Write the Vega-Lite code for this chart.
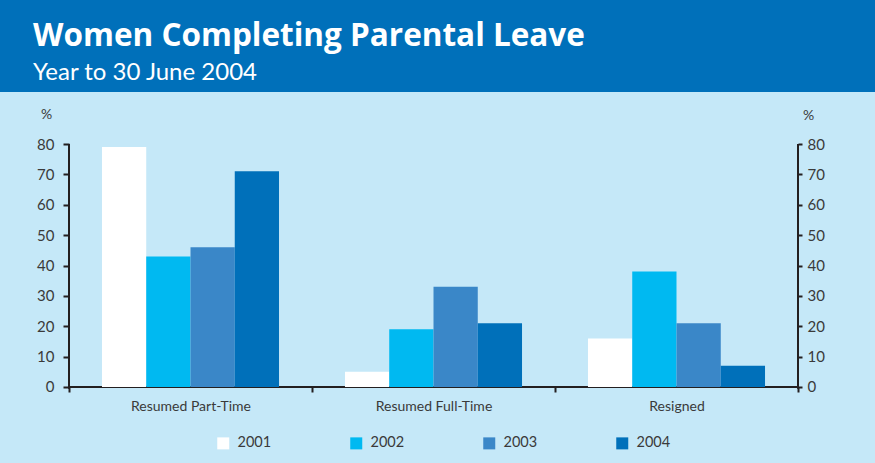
{
  "$schema": "https://vega.github.io/schema/vega-lite/v6.json",
  "background": "#0070BA",
  "padding": {"left": 0, "top": 20, "right": 0, "bottom": 0},
  "width": 875,
  "height": 372,
  "view": {"fill": "#C5E8F8", "stroke": null},
  "title": {
    "text": "Women Completing Parental Leave",
    "subtitle": "Year to 30 June 2004",
    "anchor": "start",
    "frame": "group",
    "orient": "top",
    "offset": 7,
    "dx": 33,
    "font": "Open Sans",
    "fontSize": 31.5,
    "fontWeight": "bold",
    "color": "#FFFFFF",
    "subtitleFont": "Lato",
    "subtitleFontSize": 24,
    "subtitleFontWeight": "normal",
    "subtitleColor": "#FFFFFF",
    "subtitlePadding": 9
  },
  "config": {
    "font": "Lato",
    "axis": {
      "labelFont": "Lato",
      "titleFont": "Lato",
      "domain": false,
      "grid": false,
      "tickColor": "#231F20",
      "tickWidth": 2,
      "labelColor": "#3A3A3A",
      "titleColor": "#3A3A3A"
    },
    "axisX": {
      "orient": "bottom",
      "offset": -77,
      "tickBand": "extent",
      "tickSize": 5,
      "labelFontSize": 14,
      "labelPadding": 7,
      "labelAngle": 0
    },
    "legend": {"labelFont": "Lato"}
  },
  "datasets": {
    "leave": [
      {"category": "Resumed Part-Time", "year": "2001", "value": 79},
      {"category": "Resumed Part-Time", "year": "2002", "value": 43},
      {"category": "Resumed Part-Time", "year": "2003", "value": 46},
      {"category": "Resumed Part-Time", "year": "2004", "value": 71},
      {"category": "Resumed Full-Time", "year": "2001", "value": 5},
      {"category": "Resumed Full-Time", "year": "2002", "value": 19},
      {"category": "Resumed Full-Time", "year": "2003", "value": 33},
      {"category": "Resumed Full-Time", "year": "2004", "value": 21},
      {"category": "Resigned", "year": "2001", "value": 16},
      {"category": "Resigned", "year": "2002", "value": 38},
      {"category": "Resigned", "year": "2003", "value": 21},
      {"category": "Resigned", "year": "2004", "value": 7}
    ],
    "categories": [
      {"category": "Resumed Part-Time"},
      {"category": "Resumed Full-Time"},
      {"category": "Resigned"}
    ],
    "leftEdge": [{"category": "Resumed Part-Time"}],
    "rightEdge": [{"category": "Resigned"}]
  },
  "layer": [
    {
      "data": {"name": "categories"},
      "mark": {"type": "bar", "color": "#231F20"},
      "encoding": {
        "x": {
          "field": "category",
          "type": "nominal",
          "title": null,
          "scale": {
            "domain": ["Resumed Part-Time", "Resumed Full-Time", "Resigned"],
            "paddingInner": 0,
            "paddingOuter": 0.3004,
            "align": 0.4726
          }
        },
        "y": {"datum": -0.33, "type": "quantitative", "scale": {"domain": [-25.35, 97.12], "nice": false, "zero": false}, "axis": null},
        "y2": {"datum": 0.33}
      }
    },
    {
      "data": {"name": "leave"},
      "mark": {"type": "bar"},
      "encoding": {
        "x": {"field": "category", "type": "nominal", "title": null},
        "xOffset": {
          "field": "year",
          "type": "nominal",
          "scale": {"paddingInner": 0, "paddingOuter": 0.745}
        },
        "y": {
          "field": "value",
          "type": "quantitative",
          "scale": {"domain": [-25.35, 97.12], "nice": false, "zero": false},
          "axis": {
            "title": "%",
            "offset": -69,
            "values": [0, 10, 20, 30, 40, 50, 60, 70, 80],
            "titleAngle": 0,
            "titleAlign": "center",
            "titleBaseline": "bottom",
            "titleFontSize": 14,
            "titleFontWeight": "normal",
            "titleX": -23,
            "titleY": 29,
            "tickSize": 6,
            "labelFontSize": 15,
            "labelPadding": 9
          }
        },
        "y2": {"datum": 0},
        "color": {
          "field": "year",
          "type": "nominal",
          "scale": {"domain": ["2001", "2002", "2003", "2004"], "range": ["#FFFFFF", "#00B9F1", "#3A87C8", "#0070BA"]},
          "legend": {
            "title": null,
            "orient": "none",
            "legendX": 216,
            "legendY": 344,
            "direction": "horizontal",
            "columns": 4,
            "symbolType": "square",
            "symbolSize": 144,
            "symbolStrokeWidth": 0,
            "labelFontSize": 14.5,
            "labelColor": "#3A3A3A",
            "labelOffset": 7,
            "columnPadding": 77
          }
        }
      }
    },
    {
      "data": {"name": "leftEdge"},
      "mark": {"type": "rule", "color": "#231F20", "strokeWidth": 2},
      "encoding": {
        "x": {"field": "category", "type": "nominal", "title": null, "bandPosition": 0},
        "y": {"datum": -0.6, "type": "quantitative", "scale": {"domain": [-25.35, 97.12], "nice": false, "zero": false}, "axis": null},
        "y2": {"datum": 80}
      }
    },
    {
      "data": {"name": "rightEdge"},
      "mark": {"type": "rule", "color": "#231F20", "strokeWidth": 2},
      "encoding": {
        "x": {"field": "category", "type": "nominal", "title": null, "bandPosition": 1},
        "y": {
          "datum": -0.6,
          "type": "quantitative",
          "scale": {"domain": [-25.35, 97.12], "nice": false, "zero": false},
          "axis": {
            "orient": "right",
            "title": "%",
            "offset": -77,
            "values": [0, 10, 20, 30, 40, 50, 60, 70, 80],
            "titleAngle": 0,
            "titleAlign": "center",
            "titleBaseline": "bottom",
            "titleFontSize": 14,
            "titleFontWeight": "normal",
            "titleX": 10,
            "titleY": 30,
            "tickSize": 4,
            "labelFontSize": 15,
            "labelPadding": 5
          }
        },
        "y2": {"datum": 80}
      }
    }
  ],
  "resolve": {"axis": {"y": "independent"}}
}
